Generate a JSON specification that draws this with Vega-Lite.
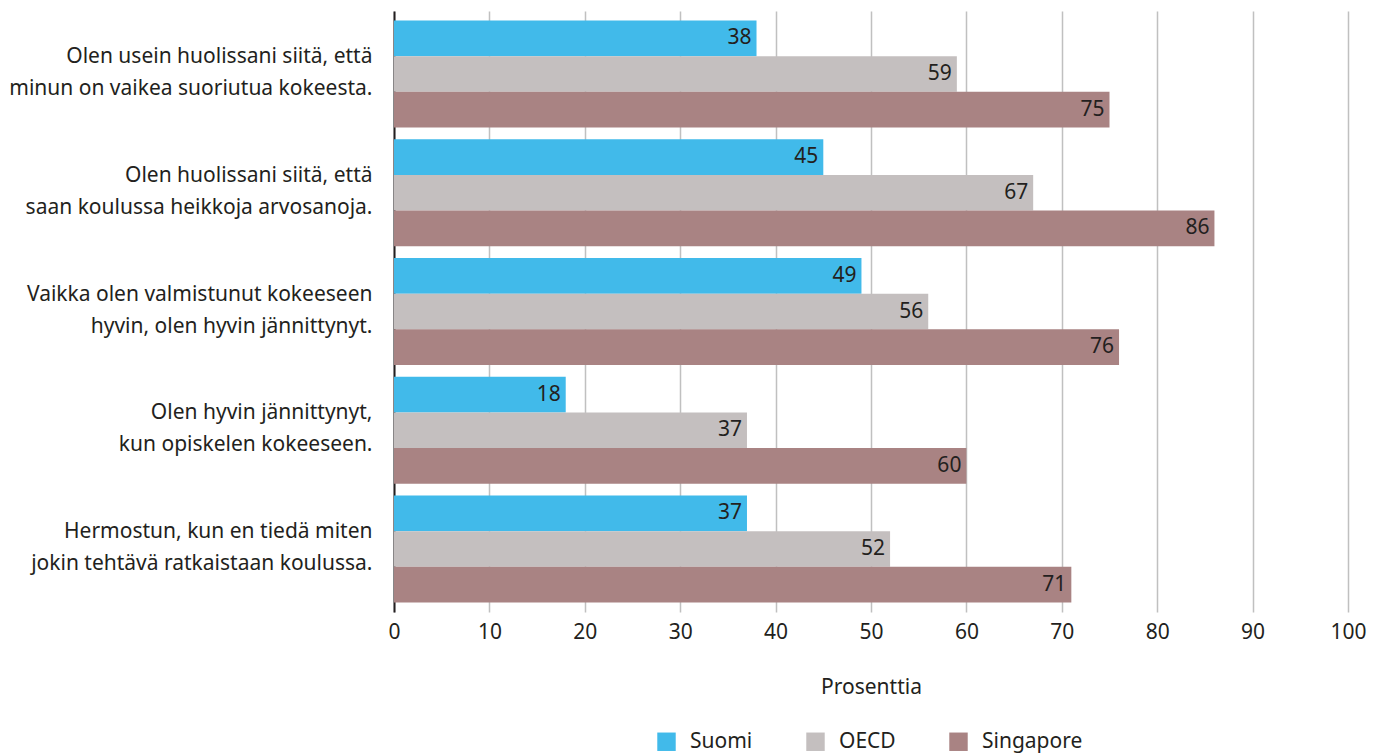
{
  "$schema": "https://vega.github.io/schema/vega-lite/v6.json",
  "autosize": {"type": "none"},
  "padding": {"left": 394, "top": 11, "right": 33, "bottom": 141},
  "width": 954,
  "height": 601,
  "background": "white",
  "config": {
    "font": "Noto Sans",
    "view": {"stroke": null}
  },
  "data": {
    "values": [
      {"q": "Olen usein huolissani siitä, että|minun on vaikea suoriutua kokeesta.", "maa": "Suomi", "arvo": 38},
      {"q": "Olen usein huolissani siitä, että|minun on vaikea suoriutua kokeesta.", "maa": "OECD", "arvo": 59},
      {"q": "Olen usein huolissani siitä, että|minun on vaikea suoriutua kokeesta.", "maa": "Singapore", "arvo": 75},
      {"q": "Olen huolissani siitä, että|saan koulussa heikkoja arvosanoja.", "maa": "Suomi", "arvo": 45},
      {"q": "Olen huolissani siitä, että|saan koulussa heikkoja arvosanoja.", "maa": "OECD", "arvo": 67},
      {"q": "Olen huolissani siitä, että|saan koulussa heikkoja arvosanoja.", "maa": "Singapore", "arvo": 86},
      {"q": "Vaikka olen valmistunut kokeeseen|hyvin, olen hyvin jännittynyt.", "maa": "Suomi", "arvo": 49},
      {"q": "Vaikka olen valmistunut kokeeseen|hyvin, olen hyvin jännittynyt.", "maa": "OECD", "arvo": 56},
      {"q": "Vaikka olen valmistunut kokeeseen|hyvin, olen hyvin jännittynyt.", "maa": "Singapore", "arvo": 76},
      {"q": "Olen hyvin jännittynyt,|kun opiskelen kokeeseen.", "maa": "Suomi", "arvo": 18},
      {"q": "Olen hyvin jännittynyt,|kun opiskelen kokeeseen.", "maa": "OECD", "arvo": 37},
      {"q": "Olen hyvin jännittynyt,|kun opiskelen kokeeseen.", "maa": "Singapore", "arvo": 60},
      {"q": "Hermostun, kun en tiedä miten|jokin tehtävä ratkaistaan koulussa.", "maa": "Suomi", "arvo": 37},
      {"q": "Hermostun, kun en tiedä miten|jokin tehtävä ratkaistaan koulussa.", "maa": "OECD", "arvo": 52},
      {"q": "Hermostun, kun en tiedä miten|jokin tehtävä ratkaistaan koulussa.", "maa": "Singapore", "arvo": 71}
    ]
  },
  "encoding": {
    "y": {
      "field": "q",
      "type": "nominal",
      "sort": null,
      "title": null,
      "scale": {"paddingInner": 0.1, "paddingOuter": 0.08},
      "axis": {
        "labelExpr": "split(datum.label, '|')",
        "labelFontSize": 21,
        "labelColor": "#231f20",
        "labelLineHeight": 32,
        "labelOffset": -17,
        "labelPadding": 22,
        "labelLimit": 400,
        "ticks": false,
        "domain": true,
        "domainColor": "#231f20",
        "domainWidth": 2,
        "grid": false
      }
    },
    "yOffset": {
      "field": "maa",
      "type": "nominal",
      "sort": ["Suomi", "OECD", "Singapore"],
      "scale": {"paddingInner": 0, "paddingOuter": 0}
    },
    "x": {
      "field": "arvo",
      "type": "quantitative",
      "scale": {"domain": [0, 100], "nice": false},
      "title": "Prosenttia",
      "axis": {
        "values": [0, 10, 20, 30, 40, 50, 60, 70, 80, 90, 100],
        "grid": true,
        "gridColor": "#c0c0c0",
        "gridWidth": 1.5,
        "ticks": false,
        "domain": false,
        "labelFlush": false,
        "labelFontSize": 21,
        "labelColor": "#231f20",
        "labelPadding": 9,
        "titleFontSize": 21,
        "titleFontWeight": "normal",
        "titleColor": "#231f20",
        "titlePadding": 34
      }
    }
  },
  "layer": [
    {
      "mark": {"type": "bar"},
      "encoding": {
        "color": {
          "field": "maa",
          "type": "nominal",
          "sort": ["Suomi", "OECD", "Singapore"],
          "scale": {"domain": ["Suomi", "OECD", "Singapore"], "range": ["#41baea", "#c4bfbf", "#a98383"]},
          "legend": {
            "title": null,
            "orient": "none",
            "direction": "horizontal",
            "legendX": 262,
            "legendY": 720,
            "symbolType": "square",
            "symbolSize": 340,
            "symbolStrokeWidth": 0,
            "symbolOpacity": 1,
            "labelFontSize": 21,
            "labelColor": "#231f20",
            "labelOffset": 13,
            "columnPadding": 52
          }
        }
      }
    },
    {
      "mark": {"type": "text", "align": "right", "dx": -5, "fontSize": 21, "color": "#231f20", "baseline": "middle"},
      "encoding": {
        "text": {"field": "arvo", "type": "quantitative"}
      }
    }
  ]
}
